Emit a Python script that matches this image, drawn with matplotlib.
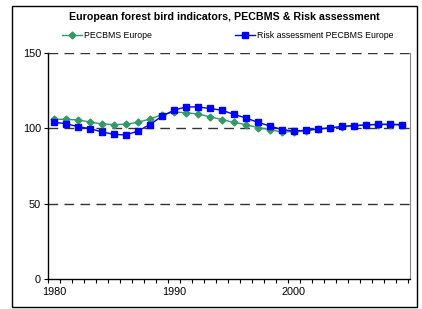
import numpy as np
import matplotlib.pyplot as plt
from matplotlib.patches import Rectangle

plt.rcParams['font.family'] = ['Liberation Sans', 'DejaVu Sans']

# values
years = list(range(1980, 2010))
pecbms = [106.0, 106.0, 105.6, 104.2, 102.9, 102.5, 102.7, 104.0, 106.2, 108.9,
          110.8, 110.4, 109.5, 107.7, 105.8, 104.0, 102.5, 100.5, 99.2, 97.6,
          97.8, 98.2, 99.5, 100.2, 101.0, 101.7, 102.2, 102.5, 102.5, 102.0]
risk = [104.0, 103.1, 101.1, 99.8, 97.6, 96.0, 95.6, 98.2, 102.5, 108.0,
        112.0, 114.2, 114.2, 113.2, 112.0, 109.3, 106.9, 104.0, 101.6, 99.2,
        98.2, 98.7, 99.6, 100.2, 101.3, 101.8, 102.2, 102.7, 102.7, 102.5]
y_ticks = [0, 50, 100, 150]
x_labels = [1980, 1990, 2000]

fig = plt.figure(figsize=(4.22, 3.09), dpi=100)
ax = fig.add_axes([48 / 422, 1 - 279 / 309, 362 / 422, 226 / 309])

# outer chart border
fig.patches.append(Rectangle((12 / 422, 1 - 307 / 309), 405 / 422, 301 / 309,
                             transform=fig.transFigure, fill=False,
                             edgecolor='black', linewidth=1.0))

for yv in [50, 100, 150]:
    ax.axhline(yv, color='#333333', linestyle=(0, (7, 4.5)), linewidth=1.0, zorder=1)

ax.plot(years, pecbms, color='#339966', marker='D', markersize=3.5,
        linewidth=1.0, label='PECBMS Europe', zorder=3)
ax.plot(years, risk, color='#0000ff', marker='s', markersize=5,
        linewidth=1.0, label='Risk assessment PECBMS Europe', zorder=4)

ax.set_xlim(1979.5, 2009.7)
ax.set_ylim(0, 150)
ax.set_yticks(y_ticks)
ax.set_xticks(x_labels)
ax.set_xticks(np.arange(1979.5, 2010, 1), minor=True)
ax.tick_params(axis='x', which='major', length=0, pad=6, labelsize=7.8)
ax.tick_params(axis='x', which='minor', length=3, direction='out', width=0.8)
ax.tick_params(axis='y', length=3, direction='out', width=0.8, labelsize=7.8, pad=2)

ax.spines['top'].set_visible(False)
ax.spines['right'].set_color('#888888')
ax.spines['left'].set_linewidth(1.0)
ax.spines['bottom'].set_linewidth(1.0)

fig.text(224 / 422, 1 - 17 / 309, 'European forest bird indicators, PECBMS & Risk assessment',
         ha='center', va='center', fontsize=7.7, fontweight='bold')

fig.legend(loc='center', bbox_to_anchor=(228 / 422, 1 - 36 / 309), ncol=2,
           frameon=False, fontsize=6.3, handlelength=2.2, handletextpad=0.3,
           columnspacing=9.5, borderpad=0)

fig.savefig('out.png', dpi=100)
